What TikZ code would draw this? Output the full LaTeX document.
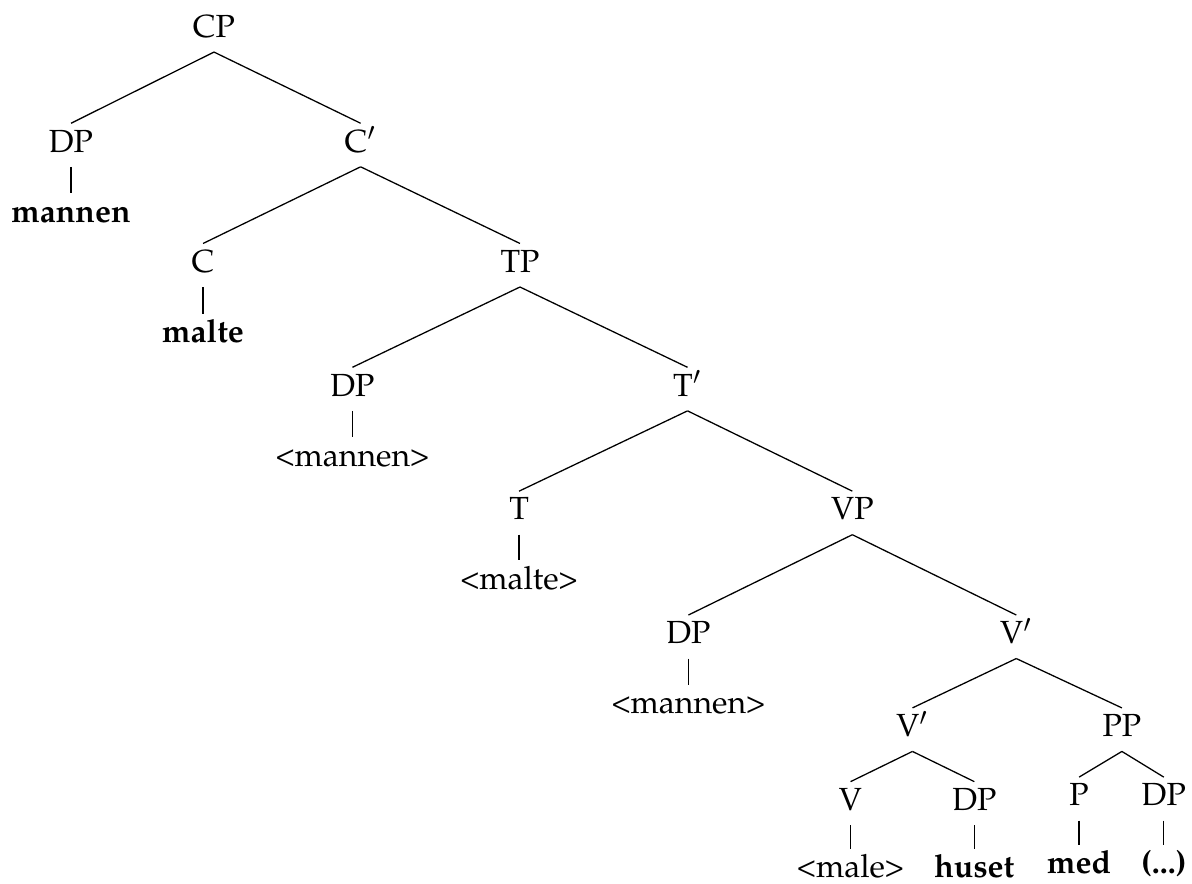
\documentclass[tikz,border=0pt]{standalone}
\usepackage[T1]{fontenc}
\usepackage{mathpazo}

\begin{document}
\begin{tikzpicture}[node distance=0.77cm, every node/.style={anchor=base, text height=6.8pt, text depth=2.4pt, inner ysep=2pt}]
	\useasboundingbox (0,0) rectangle (13.09,-9.70);

	\node (cp) at (2.35,-0.41) {CP};
	\node (dp1) at (0.78,-1.67) {DP};
	\node (c1) at (3.96,-1.67) {C$'$};
	\node (c0) at (2.23,-2.99) {C};
	\node (tp) at (5.71,-2.99) {TP};
	\node (dp2) at (3.87,-4.35) {DP};
	\node (t1) at (7.55,-4.35) {T$'$};
	\node (t0) at (5.70,-5.71) {T};
	\node (vp) at (9.36,-5.71) {VP};
	\node (dp3) at (7.56,-7.07) {DP};
	\node (v2) at (11.16,-7.07) {V$'$};
	\node (v1) at (10.02,-8.09) {V$'$};
	\node (pp) at (12.32,-8.09) {PP};
	\node (v0) at (9.34,-8.90) {V};
	\node (dp4) at (10.70,-8.90) {DP};
	\node (p0) at (11.85,-8.85) {P};
	\node (dp5) at (12.78,-8.85) {DP};

	% words
	\node (w1) [below of=dp1] {\textbf{mannen}};
	\node (w2) [below of=c0] {\textbf{malte}};
	\node (w3) [below of=dp2] {<mannen>};
	\node (w4) [below of=t0, node distance=0.76cm] {<malte>};
	\node (w5) [below of=dp3] {<mannen>};
	\node (w6) [below of=v0, node distance=0.74cm] {<male>};
	\node (w7) [below of=dp4, node distance=0.74cm] {\textbf{huset}};
	\node (w8) [below of=p0, node distance=0.74cm] {\textbf{med}};
	\node (w9) [below of=dp5, node distance=0.74cm] {\textbf{(...)}};

	\draw (cp.south) to (dp1.north);
	\draw (cp.south) to (c1.north);
	\draw (c1.south) to (c0.north);
	\draw (c1.south) to (tp.north);
	\draw (tp.south) to (dp2.north);
	\draw (tp.south) to (t1.north);
	\draw (t1.south) to (t0.north);
	\draw (t1.south) to (vp.north);
	\draw (vp.south) to (dp3.north);
	\draw (vp.south) to (v2.north);
	\draw (v2.south) to (v1.north);
	\draw (v2.south) to (pp.north);
	\draw (v1.south) to (v0.north);
	\draw (v1.south) to (dp4.north);
	\draw (pp.south) to (p0.north);
	\draw (pp.south) to (dp5.north);

	\draw (dp1.south) to (w1.north);
	\draw (c0.south) to (w2.north);
	\draw (dp2.south) to (w3.north);
	\draw (t0.south) to (w4.north);
	\draw (dp3.south) to (w5.north);
	\draw (v0.south) to (w6.north);
	\draw (dp4.south) to (w7.north);
	\draw (p0.south) to (w8.north);
	\draw (dp5.south) to (w9.north);
\end{tikzpicture}
\end{document}
